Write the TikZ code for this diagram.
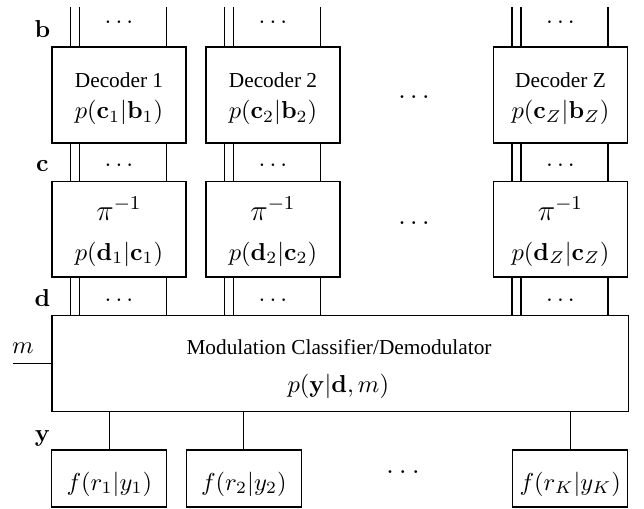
\documentclass[tikz,border=0pt]{standalone}
\usepackage[no-math]{fontspec}
\setmainfont{Liberation Serif}
\usetikzlibrary{calc}
\begin{document}
\begin{tikzpicture}[x=0.408pt,y=-0.408pt,line width=0.42pt,
  blk/.style={draw,inner sep=0pt,minimum width={#1*0.408pt}},
  decbox/.style={blk=134,minimum height={96*0.408pt}},
  pibox/.style={blk=134,minimum height={95.5*0.408pt}},
  fbox/.style={blk=115,minimum height={57*0.408pt}},
  txt/.style={font=\rmfamily\fontsize{8.7}{10}\selectfont,inner sep=0pt,anchor=base},
  mth/.style={inner sep=0pt,anchor=base},
  bigdots/.style={inner sep=0pt,anchor=base,font=\fontsize{11}{13}\selectfont}]
\useasboundingbox (0,0) rectangle (644,508);
% column blocks
\foreach \i/\xl/\s in {1/52/1, 2/206/2, 3/493.5/Z}{
  \node[decbox] (d\i) at (\xl+67,95) {};
  \node[pibox] (p\i) at (\xl+67,229.25) {};
  \node[txt] (dt\i) at (\xl+67,87.3) {Decoder \s};
  \node[mth] (dp\i) at (\xl+67,118.4) {$p(\mathbf{c}_{\s}|\mathbf{b}_{\s})$};
  \node[mth,font=\large] (pt\i) at (\xl+67,220) {$\pi^{-1}$};
  \node[mth] (pp\i) at (\xl+67,260) {$p(\mathbf{d}_{\s}|\mathbf{c}_{\s})$};
  \node[mth] (s1\i) at (\xl+67,24) {$\ldots$};
  \node[mth] (s2\i) at (\xl+67,167) {$\ldots$};
  \node[mth] (s3\i) at (\xl+67,301) {$\ldots$};
}
% modulator
\node[blk=576,minimum height={96*0.408pt}] (mod) at (340,363.5) {};
\node[txt] (modt) at (339,354.3) {Modulation Classifier/Demodulator};
\node[mth] (modp) at (338.3,392) {$p(\mathbf{y}|\mathbf{d},m)$};
% wires
\foreach \i in {1,2,3}{
  \foreach \o in {19,28,115}{
    \coordinate (top\i-\o) at ($(d\i.north west)+(\o,-39)$);
    \draw (top\i-\o) -- ($(d\i.north west)+(\o,0)$);
    \draw ($(d\i.south west)+(\o,0)$) -- ($(p\i.north west)+(\o,0)$);
    \coordinate (low\i-\o) at ($(p\i.south west)+(\o,0)$);
    \draw (low\i-\o) -- (low\i-\o |- mod.north);
  }
}
% big dots
\node[bigdots] (bd1) at (414,99) {$\ldots$};
\node[bigdots] (bd2) at (414,224) {$\ldots$};
\node[mth,font=\large] (bd3) at (403,473) {$\ldots$};
% f boxes
\node[fbox] (f1) at (109.3,478.5) {};
\node[fbox] (f2) at (243.8,478.5) {};
\node[fbox] (f3) at (570.2,478.5) {};
\node[mth] (ft1) at (109.3,490) {$f(r_1|y_1)$};
\node[mth] (ft2) at (243.8,490) {$f(r_2|y_2)$};
\node[mth] (ft3) at (570.2,490) {$f(r_K|y_K)$};
\foreach \i in {1,2,3}{\draw (f\i.north) -- (f\i.north |- mod.south);}
% m input
\coordinate (min) at (13,363.5);
\draw (min) -- (mod.west);
% labels
\node[mth] (lb) at (42.5,37.7) {$\mathbf{b}$};
\node[mth] (lc) at (42.5,171.7) {$\mathbf{c}$};
\node[mth] (ld) at (42.5,306.7) {$\mathbf{d}$};
\node[mth] (ly) at (42.5,441) {$\mathbf{y}$};
\node[mth] (lm) at (23,353) {$m$};
\end{tikzpicture}
\end{document}
